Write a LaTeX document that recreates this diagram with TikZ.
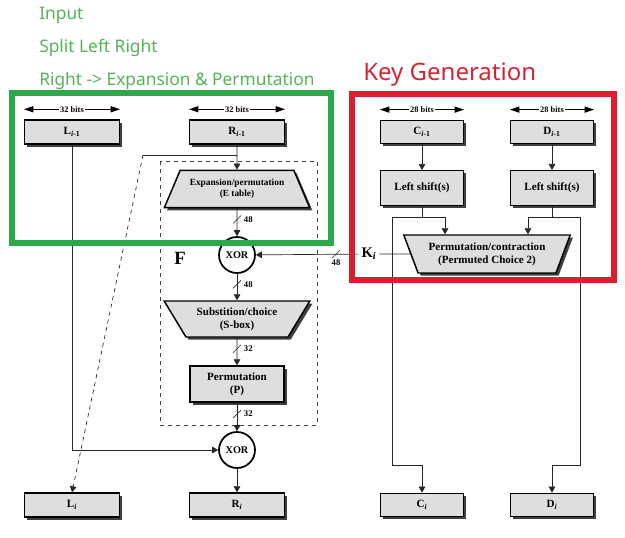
\documentclass[tikz,border=0pt]{standalone}
\usepackage{fontspec}
\setmainfont{Liberation Serif}
\newfontfamily\notefont{Noto Sans}
\usepackage{tikz}
\usetikzlibrary{arrows.meta}
\usetikzlibrary{shapes.geometric}
\usetikzlibrary{shadows}
\definecolor{notegreen}{RGB}{86,178,88}
\definecolor{framegreen}{RGB}{44,168,74}
\definecolor{notered}{RGB}{212,38,52}
\definecolor{framered}{RGB}{222,30,48}
\definecolor{boxgray}{RGB}{222,222,222}

\begin{document}
\begin{tikzpicture}[x=0.75pt,y=-0.75pt]
  \tikzset{block/.style = {draw,fill=boxgray,line width=1.1pt,align=center,inner sep=1pt,
      font=\bfseries\fontsize{8.3}{9.5}\selectfont,
      drop shadow={shadow xshift=2pt,shadow yshift=-2pt,fill=black!75,opacity=1}}}
  \tikzset{reg/.style = {block,minimum width=71pt,minimum height=18pt}}
  \tikzset{keyreg/.style = {block,minimum width=62pt,minimum height=17.5pt}}
  \tikzset{trap/.style = {block,trapezium,trapezium stretches=true}}
  \tikzset{xor/.style = {circle,draw,line width=1.3pt,fill=white,minimum size=27pt,inner sep=0pt,
      font=\bfseries\fontsize{7.7}{9}\selectfont}}
  \tikzset{arr/.style = {-{Triangle[length=4.5pt,width=5pt]},line width=0.5pt,draw=black!85}}
  \tikzset{line/.style = {line width=0.5pt,draw=black!85}}
  \tikzset{bits/.style = {{Triangle[length=7pt,width=4.5pt]}-{Triangle[length=7pt,width=4.5pt]},line width=0.9pt}}
  \tikzset{bitlabel/.style = {fill=white,inner sep=1pt,font=\bfseries\fontsize{6.3}{7}\selectfont}}
  \tikzset{num/.style = {inner sep=1pt,font=\bfseries\fontsize{6.5}{7}\selectfont}}
  \tikzset{note/.style = {text=notegreen,inner sep=0pt,font=\notefont\fontsize{13}{15}\selectfont}}

  \useasboundingbox (0,0) rectangle (625,537);

  % notes
  \node[note,anchor=west] (nin) at (39,15) {Input};
  \node[note,anchor=west] (nsplit) at (39,48) {Split Left Right};
  \node[note,anchor=west] (nright) at (39,81) {Right -> Expansion \& Permutation};
  \node[note,anchor=west,text=notered,font=\notefont\fontsize{18}{20}\selectfont] (nkey) at (363,75) {Key Generation};

  % round function
  \node[reg] (L0) at (72,132) {L\textsubscript{\textit{i}-1}};
  \node[reg] (R0) at (237,132) {R\textsubscript{\textit{i}-1}};
  \node[trap,trapezium left angle=59,trapezium right angle=59,minimum width=109.5pt,minimum height=28pt,
      font=\bfseries\fontsize{7}{8.5}\selectfont] (E) at (237,189) {Expansion/permutation\\(E table)};
  \node[xor] (X1) at (237,255) {XOR};
  \node[trap,shape border rotate=180,trapezium left angle=55,trapezium right angle=55,
      minimum width=109.5pt,minimum height=27pt] (S) at (237,319) {Substition/choice\\(S-box)};
  \node[block,minimum width=70.5pt,minimum height=27pt] (P) at (237,384) {Permutation\\(P)};
  \node[xor] (X2) at (237,450) {XOR};
  \node[reg] (L1) at (72,505) {L\textsubscript{\textit{i}}};
  \node[reg] (R1) at (237,505) {R\textsubscript{\textit{i}}};
  \node[font=\bfseries\fontsize{14}{16}\selectfont] (F) at (180,258) {F};
  \draw[dashed,line width=0.5pt,black!75] (160,161) rectangle (317,425);

  % key schedule
  \node[keyreg] (C0) at (422,132) {C\textsubscript{\textit{i}-1}};
  \node[keyreg] (D0) at (552,132) {D\textsubscript{\textit{i}-1}};
  \node[keyreg,minimum height=26pt] (LSC) at (422,188) {Left shift(s)};
  \node[keyreg,minimum height=26pt] (LSD) at (552,188) {Left shift(s)};
  \node[trap,shape border rotate=180,trapezium left angle=64,trapezium right angle=64,
      minimum width=125pt,minimum height=28.5pt] (PC) at (487,254) {Permutation/contraction\\(Permuted Choice 2)};
  \node[keyreg] (Ci) at (422,505) {C\textsubscript{\textit{i}}};
  \node[keyreg] (Di) at (552,505) {D\textsubscript{\textit{i}}};
  \node[font=\bfseries\fontsize{11}{13}\selectfont,inner sep=2pt] (Ki) at (369,254) {K\textsubscript{\textit{i}}};

  % widths
  \foreach \n/\t in {L0/32,R0/32,C0/28,D0/28}
    \draw[bits] ([yshift=7.5pt]\n.north west) -- node[bitlabel]{\t\ bits} ([yshift=7.5pt]\n.north east);

  % data path
  \coordinate (rs) at (237,155);
  \coordinate (rl) at (143,155);
  \draw[arr] (R0) -- (E);
  \draw[line] (rs) -- (rl);
  \draw[arr,dashed] (rl) -- (L1.north);
  \draw[arr] (E) -- coordinate[pos=.4] (b1) (X1);
  \draw[arr] (X1) -- coordinate[pos=.4] (b2) (S);
  \draw[arr] (S) -- coordinate[pos=.4] (b3) (P);
  \draw[arr] (P) -- coordinate[pos=.4] (b4) (X2);
  \draw[arr] (X2) -- (R1);
  \draw[arr] (L0) |- (X2);
  \foreach \p/\t in {b1/48,b2/48,b3/32,b4/32} {
    \draw[line] (\p) ++(-4,4) -- ++(8,-8);
    \node[num,anchor=west] at ([xshift=4pt]\p) {\t};
  }

  % key path
  \coordinate (c1) at (422,217);
  \coordinate (c2) at (445,217);
  \coordinate (c3) at (392,217);
  \coordinate (c4) at (392,465);
  \coordinate (d1) at (552,217);
  \coordinate (d2) at (528,217);
  \coordinate (d3) at (580,217);
  \coordinate (d4) at (580,465);
  \draw[arr] (C0) -- (LSC);
  \draw[arr] (D0) -- (LSD);
  \draw[arr] (LSC.south) -- (c1) -- (c2) -- (c2 |- PC.north);
  \draw[arr] (c1) -- (c3) -- (c4) -| (Ci.north);
  \draw[arr] (LSD.south) -- (d1) -- (d2) -- (d2 |- PC.north);
  \draw[arr] (d1) -- (d3) -- (d4) -| (Di.north);
  \draw[line] (PC.west) -- (Ki);
  \draw[arr] (Ki) -- coordinate[pos=.22] (bk) (X1);
  \draw[line] (bk) ++(-4,4) -- ++(8,-8);
  \node[num,anchor=north] at ([yshift=-3pt]bk) {48};

  % highlight frames
  \draw[framegreen,line width=3.8pt] (12,93) rectangle (331,243);
  \draw[framered,line width=3.8pt] (352,94) rectangle (614,280);
\end{tikzpicture}
\end{document}
